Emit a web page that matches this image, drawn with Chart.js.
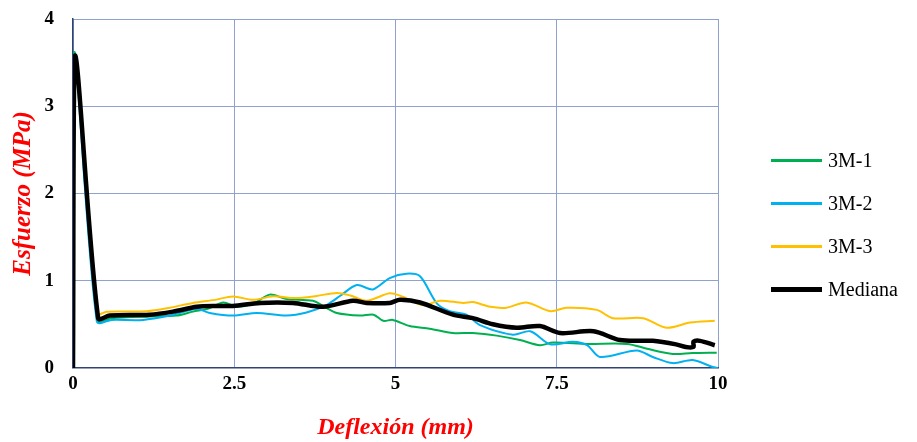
<!DOCTYPE html>
<html>
<head>
<meta charset="utf-8">
<script src="https://cdn.jsdelivr.net/npm/chart.js@4"></script>
<style>
  html, body { margin: 0; padding: 0; background: #fff; }
  #wrap { width: 917px; height: 442px; }
</style>
</head>
<body>
<div id="wrap"><canvas id="chart" width="917" height="442"></canvas></div>
<script>
// 3M-1
const m1X = [0, 0.02, 0.39, 0.6, 1.2, 1.6, 1.86, 2.1, 2.33, 2.54, 2.8, 3.05, 3.31, 3.72, 3.9, 4.09, 4.45, 4.66, 4.81, 4.96, 5.22, 5.53, 5.89, 6.2, 6.57, 6.93, 7.24, 7.44, 7.97, 8.59, 8.9, 9.3, 9.6, 9.98];
const m1Y = [0, 3.62, 0.54, 0.57, 0.59, 0.6, 0.645, 0.68, 0.75, 0.70, 0.74, 0.84, 0.79, 0.77, 0.7, 0.63, 0.60, 0.61, 0.54, 0.55, 0.48, 0.45, 0.40, 0.40, 0.37, 0.32, 0.26, 0.29, 0.275, 0.275, 0.22, 0.16, 0.17, 0.175];
// 3M-2
const m2X = [0, 0.02, 0.37, 0.6, 1.09, 1.5, 1.92, 2.12, 2.48, 2.85, 3.31, 3.62, 3.93, 4.15, 4.4, 4.65, 4.91, 5.17, 5.38, 5.64, 5.84, 6.1, 6.31, 6.82, 7.09, 7.4, 7.75, 7.97, 8.17, 8.74, 8.99, 9.3, 9.61, 9.92, 10];
const m2Y = [0, 3.58, 0.53, 0.55, 0.55, 0.6, 0.675, 0.63, 0.60, 0.63, 0.60, 0.635, 0.72, 0.83, 0.95, 0.90, 1.03, 1.08, 1.05, 0.74, 0.65, 0.61, 0.49, 0.38, 0.42, 0.27, 0.30, 0.26, 0.125, 0.20, 0.125, 0.055, 0.09, 0.01, 0];
// 3M-3
const m3X = [0, 0.02, 0.39, 0.52, 1.14, 1.5, 1.86, 2.2, 2.48, 2.79, 3.1, 3.45, 3.78, 4.09, 4.3, 4.55, 4.91, 5.1, 5.43, 5.69, 6.05, 6.2, 6.47, 6.72, 7.03, 7.4, 7.65, 8.12, 8.37, 8.84, 9.2, 9.57, 9.95];
const m3Y = [0, 3.55, 0.62, 0.645, 0.65, 0.69, 0.745, 0.78, 0.82, 0.78, 0.82, 0.80, 0.825, 0.86, 0.83, 0.77, 0.855, 0.82, 0.72, 0.77, 0.745, 0.755, 0.70, 0.69, 0.75, 0.65, 0.69, 0.665, 0.57, 0.57, 0.46, 0.52, 0.54];
// Mediana
const medX = [0, 0.03, 0.39, 0.57, 1.19, 1.55, 1.92, 2.23, 2.48, 2.9, 3.41, 3.88, 4.34, 4.55, 4.91, 5.07, 5.38, 5.89, 6.2, 6.51, 6.88, 7.24, 7.55, 8.07, 8.48, 8.99, 9.35, 9.5, 9.62, 9.62, 9.72, 9.95];
const medY = [0, 3.58, 0.57, 0.6, 0.61, 0.645, 0.70, 0.71, 0.71, 0.745, 0.745, 0.70, 0.77, 0.745, 0.745, 0.78, 0.75, 0.61, 0.57, 0.50, 0.46, 0.48, 0.40, 0.42, 0.32, 0.31, 0.27, 0.24, 0.24, 0.30, 0.31, 0.26];

const xTicks = [0, 2.5, 5, 7.5, 10];
const yTicks = [0, 1, 2, 3, 4];

const toPoints = (xs, ys) => xs.map((x, i) => ({ x: x, y: ys[i] }));

function series(label, xs, ys, color, width, order) {
    return {
        label: label,
        data: toPoints(xs, ys),
        borderColor: color,
        backgroundColor: color,
        borderWidth: width,
        pointRadius: 0,
        tension: 0.3,
        showLine: true,
        order: order
    };
}

const serif = "'Liberation Serif', 'Times New Roman', serif";

// legend on the right, drawn from the datasets (Excel-style, line samples)
const sideLegend = {
    id: 'sideLegend',
    afterDraw(chart) {
        const { ctx, chartArea } = chart;
        const sets = chart.data.datasets;
        const step = 43;
        const midY = 225;
        const x0 = chartArea.right + 53;
        ctx.save();
        ctx.font = '20px ' + serif;
        ctx.textBaseline = 'middle';
        ctx.fillStyle = '#000';
        sets.forEach((ds, i) => {
            const y = midY + (i - (sets.length - 1) / 2) * step;
            ctx.beginPath();
            ctx.strokeStyle = ds.borderColor;
            ctx.lineWidth = ds.borderWidth > 3 ? 5 : 3;
            ctx.moveTo(x0, y);
            ctx.lineTo(x0 + 51, y);
            ctx.stroke();
            ctx.fillText(ds.label, x0 + 57, y + 1);
        });
        ctx.restore();
    }
};

new Chart(document.getElementById('chart'), {
    type: 'scatter',
    data: {
        datasets: [
            series('3M-1', m1X, m1Y, '#00B050', 2, 3),
            series('3M-2', m2X, m2Y, '#00B0F0', 2, 2),
            series('3M-3', m3X, m3Y, '#FFC000', 2, 1),
            series('Mediana', medX, medY, '#000000', 4.5, 0)
        ]
    },
    plugins: [sideLegend],
    options: {
        responsive: false,
        animation: false,
        layout: { padding: { left: 9, right: 199, top: 19, bottom: 0 } },
        plugins: {
            tooltip: { enabled: false },
            legend: { display: false }
        },
        scales: {
            x: {
                type: 'linear',
                min: 0,
                max: 10,
                afterBuildTicks: axis => { axis.ticks = xTicks.map(v => ({ value: v })); },
                ticks: {
                    color: '#000',
                    padding: 4.5,
                    font: { family: serif, size: 19, weight: 'bold' },
                    callback: v => String(v)
                },
                grid: { color: '#8EA2CC', lineWidth: 1, drawTicks: false },
                border: { color: '#2F4475', width: 1.5 },
                title: {
                    display: true,
                    text: 'Deflexión (mm)',
                    color: '#FF0000',
                    font: { family: serif, size: 24, weight: 'bold', style: 'italic' },
                    padding: { top: 13.5, bottom: 0 }
                }
            },
            y: {
                min: 0,
                max: 4,
                afterBuildTicks: axis => { axis.ticks = yTicks.map(v => ({ value: v })); },
                afterFit: axis => { axis.paddingTop = 0; axis.width = 64; },
                ticks: {
                    color: '#000',
                    padding: 19,
                    font: { family: serif, size: 19, weight: 'bold' }
                },
                grid: { color: '#8EA2CC', lineWidth: 1, drawTicks: false },
                border: { color: '#2F4475', width: 1.5 },
                title: {
                    display: true,
                    text: 'Esfuerzo (MPa)',
                    color: '#FF0000',
                    font: { family: serif, size: 25, weight: 'bold', style: 'italic' },
                    padding: { top: 0, bottom: 5 }
                }
            }
        }
    }
});
</script>
</body>
</html>
